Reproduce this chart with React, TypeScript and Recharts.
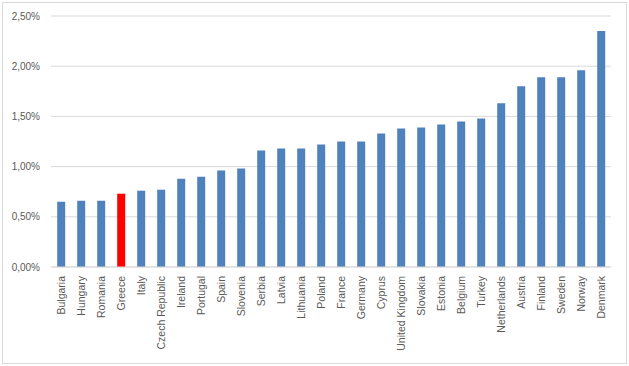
import React from 'react';
import { BarChart, Bar, Cell, XAxis, YAxis, CartesianGrid } from 'recharts';

const countries = [
  'Bulgaria', 'Hungary', 'Romania', 'Greece', 'Italy', 'Czech Republic', 'Ireland',
  'Portugal', 'Spain', 'Slovenia', 'Serbia', 'Latvia', 'Lithuania', 'Poland',
  'France', 'Germany', 'Cyprus', 'United Kingdom', 'Slovakia', 'Estonia', 'Belgium',
  'Turkey', 'Netherlands', 'Austria', 'Finland', 'Sweden', 'Norway', 'Denmark',
];

// share in percent
const shares = [
  0.65, 0.66, 0.66, 0.73, 0.76, 0.77, 0.88,
  0.90, 0.96, 0.98, 1.16, 1.18, 1.18, 1.22,
  1.25, 1.25, 1.33, 1.38, 1.39, 1.42, 1.45,
  1.48, 1.63, 1.80, 1.89, 1.89, 1.96, 2.35,
];

const highlighted = ['Greece'];

const yTicks = [0, 0.5, 1.0, 1.5, 2.0, 2.5];

const BLUE = '#4F81BD';
const RED = '#FF0000';
const TEXT = '#595959';
const GRID = '#D9D9D9';

const data = countries.map((name, i) => ({ name, value: shares[i] }));

const fmtPct = (v: number) => v.toFixed(2).replace('.', ',') + '%';

const CountryTick = (props: any) => {
  const { x, y, payload } = props;
  return (
    <g transform={`translate(${x},${y})`}>
      <text
        transform="rotate(-90)"
        textAnchor="end"
        dy="0.35em"
        fill={TEXT}
        fontSize={10.5}
        fontFamily="Liberation Sans, Arial, sans-serif"
      >
        {payload.value}
      </text>
    </g>
  );
};

export default function App() {
  return (
    <div style={{ position: 'absolute', left: 0, top: 0, width: 629, height: 366, background: '#fff' }}>
      <div
        style={{
          position: 'absolute',
          left: 2,
          top: 2,
          width: 623,
          height: 360,
          border: `1px solid ${GRID}`,
        }}
      />
      <div style={{ position: 'absolute', left: 0, top: 0 }}>
        <BarChart
          width={629}
          height={366}
          data={data}
          margin={{ top: 16, right: 18, left: 0, bottom: 0 }}
          barCategoryGap="31%"
        >
          <CartesianGrid vertical={false} stroke={GRID} />
          <XAxis
            dataKey="name"
            interval={0}
            height={99}
            axisLine={{ stroke: GRID }}
            tickLine={false}
            tickSize={0}
            tickMargin={9}
            tick={<CountryTick />}
          />
          <YAxis
            width={51}
            domain={[0, 2.5]}
            ticks={yTicks}
            tickFormatter={fmtPct}
            axisLine={false}
            tickLine={false}
            tickSize={0}
            tickMargin={11}
            tick={{ fill: TEXT, fontSize: 10, fontFamily: 'Liberation Sans, Arial, sans-serif' }}
          />
          <Bar dataKey="value" isAnimationActive={false}>
            {data.map((entry, index) => (
              <Cell key={`cell-${index}`} fill={highlighted.includes(entry.name) ? RED : BLUE} />
            ))}
          </Bar>
        </BarChart>
      </div>
    </div>
  );
}
